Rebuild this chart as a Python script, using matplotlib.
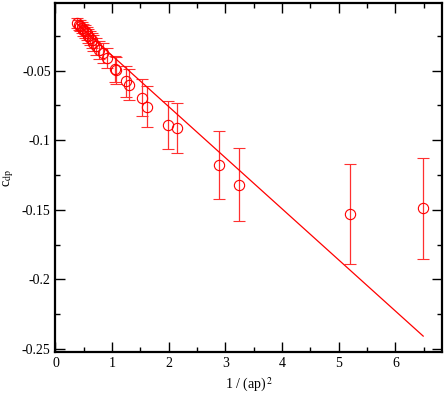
import matplotlib
matplotlib.use("Agg")
import matplotlib.pyplot as plt
import numpy as np
from matplotlib.ticker import MultipleLocator

# ------ data -----------------------------------------

inv_ap2 = [0.384, 0.41, 0.432, 0.46, 0.490, 0.52, 0.550, 0.58, 0.608, 0.64,
           0.667, 0.72, 0.772, 0.84, 0.903, 1.049, 1.067, 1.243, 1.302, 1.526,
           1.608, 1.99, 2.148, 2.88, 3.24, 5.19, 6.49]
c_dp = [-0.0157, -0.0170, -0.0178, -0.0190, -0.0205, -0.0218, -0.0232, -0.0248,
        -0.0265, -0.0282, -0.0301, -0.0325, -0.0349, -0.0372, -0.0409, -0.0488,
        -0.0498, -0.0575, -0.0600, -0.0694, -0.0758, -0.0888, -0.0913, -0.118,
        -0.1318, -0.153, -0.149]
c_err = [0.0035, 0.0037, 0.004, 0.004, 0.0043, 0.0045, 0.0048, 0.005, 0.0052,
         0.0055, 0.0057, 0.006, 0.0065, 0.007, 0.0075, 0.0095, 0.0098, 0.0112,
         0.0114, 0.0133, 0.015, 0.0173, 0.018, 0.0245, 0.026, 0.036, 0.036]

fit_intercept = -0.0025
fit_slope = -0.0367

# ----------- plot ------------------------------------

plt.rcParams['font.family'] = ['Liberation Serif', 'DejaVu Serif']
plt.rcParams['mathtext.fontset'] = 'stix'

fig = plt.figure(figsize=(4.45, 3.93), dpi=100)
ax = fig.add_axes([0.1247, 0.104, 0.8683, 0.888])

ax.errorbar(inv_ap2, c_dp, yerr=c_err, fmt='o', color='red', mfc='none',
            mec='red', ms=7.4, mew=0.8, elinewidth=0.9, capsize=4.3,
            capthick=0.9, ecolor='#ff3030')

xfit = np.array([min(inv_ap2), max(inv_ap2)])
ax.plot(xfit, fit_intercept + fit_slope * xfit, color='red', lw=0.9)

ax.set_xlim(0, 6.82)
ax.set_ylim(-0.2522, -0.0015)

ax.xaxis.set_major_locator(MultipleLocator(1))
ax.xaxis.set_minor_locator(MultipleLocator(0.5))
ax.yaxis.set_major_locator(MultipleLocator(0.05))
ax.yaxis.set_minor_locator(MultipleLocator(0.025))
ax.yaxis.set_major_formatter(plt.FuncFormatter(lambda v, p: ('%g' % round(v, 3))))

ax.tick_params(which='both', direction='in', top=True, right=True,
               labelsize=10)
ax.tick_params(which='major', length=7, width=1)
ax.tick_params(which='minor', length=3.6, width=1)
for s in ax.spines.values():
    s.set_linewidth(1.6)

ax.set_xlabel(r'1 / (ap)$^{\,2}$', fontsize=10, labelpad=4)
ax.set_ylabel(r'c$_{\rm dp}$', fontsize=10, labelpad=4)

plt.savefig('out.png', dpi=100)
